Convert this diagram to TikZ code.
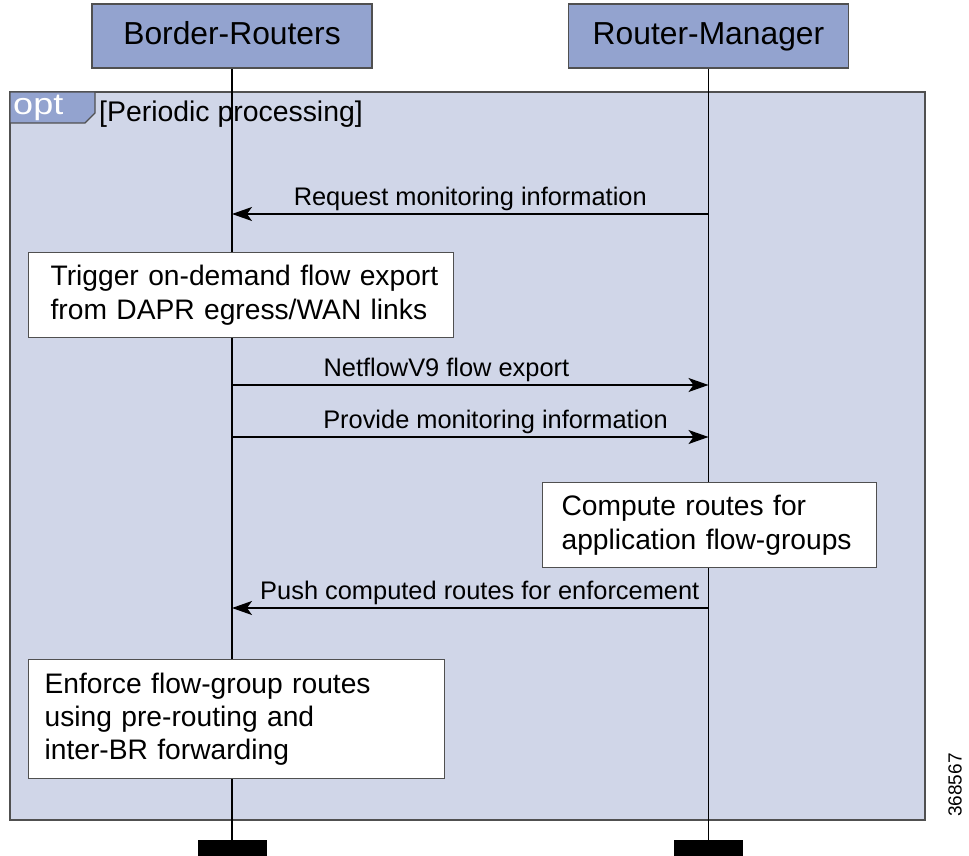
\documentclass[tikz,border=0pt]{standalone}
\usepackage{fontspec}
\setmainfont{Liberation Sans}
\usetikzlibrary{arrows.meta}
\definecolor{headblue}{HTML}{93A3CF}
\definecolor{optblue}{HTML}{D0D6E8}
\definecolor{edgegray}{HTML}{505050}
\tikzset{
  head/.style={draw=edgegray, fill=headblue, line width=1.2pt, minimum width=280pt, minimum height=64pt, inner sep=0pt, text height=23pt, text depth=6pt, font=\fontsize{31.8}{36}\selectfont},
  note/.style={draw=edgegray, fill=white, line width=1.2pt, anchor=north west, align=left, inner ysep=0pt, font=\fontsize{28.2}{34.5}\selectfont},
  msg/.style={-{Stealth[length=20pt,width=14pt,inset=5pt]}, line width=1.3pt},
  lbl/.style={above, inner sep=3pt, font=\fontsize{25.4}{30}\selectfont},
  bar/.style={fill=black, minimum width=69pt, minimum height=16pt, inner sep=0pt},
}
\begin{document}
\begin{tikzpicture}[x=1pt,y=-1pt]
\useasboundingbox (0,0) rectangle (969,856);
\draw[draw=edgegray, fill=optblue, line width=1.2pt] (10,92) rectangle (925,820);
\draw[draw=edgegray, fill=headblue, line width=1.2pt] (10,92) -- (95,92) -- (95,113) -- (85,123) -- (10,123) -- cycle;
\node[anchor=base west, text=white, inner sep=0pt, xscale=1.2, font=\fontsize{30}{36}\selectfont] (opt) at (13,115) {opt};
\node[anchor=base west, inner sep=0pt, font=\fontsize{28.4}{32}\selectfont] (guard) at (99,122) {[Periodic processing]};
\node[head] (br) at (232,36) {Border-Routers};
\node[head] (rm) at (708.5,36) {Router-Manager};
\node[bar] (brbar) at (232,848) {};
\node[bar] (rmbar) at (708.5,848) {};
\draw[line width=1.2pt] (br.south) -- (brbar.north);
\draw[line width=1.2pt] (rm.south) -- (rmbar.north);
\node[note, minimum width=425pt, minimum height=85pt, text width=401pt, inner xsep=12pt] (trigger) at (28,252)
  {\hspace*{10pt}Trigger on-demand flow export\\\hspace*{10pt}from DAPR egress/WAN links};
\node[note, minimum width=334pt, minimum height=85pt, text width=296pt, inner xsep=19pt] (compute) at (542,482)
  {Compute routes for\\application flow-groups};
\node[note, minimum width=416pt, minimum height=119pt, text width=384pt, inner xsep=16pt, font=\fontsize{28.2}{33}\selectfont] (enforce) at (28,659)
  {Enforce flow-group routes\\using pre-routing and\\inter-BR forwarding};
\coordinate (rm1) at (708.5,214);
\coordinate (br1) at (232,214);
\coordinate (br2) at (232,385);
\coordinate (rm2) at (708.5,385);
\coordinate (br3) at (232,437);
\coordinate (rm3) at (708.5,437);
\coordinate (rm4) at (708.5,608);
\coordinate (br4) at (232,608);
\draw[msg] (rm1) -- node[lbl, midway] (req) {Request monitoring information} (br1);
\draw[msg] (br2) -- node[lbl, pos=0.45] (nf) {NetflowV9 flow export} (rm2);
\draw[msg] (br3) -- node[lbl, pos=0.553] (prov) {Provide monitoring information} (rm3);
\draw[msg] (rm4) -- node[lbl, pos=0.48] (push) {Push computed routes for enforcement} (br4);
\node[rotate=90, inner sep=0pt, font=\fontsize{19}{20}\selectfont] (figno) at (955,785) {368567};
\end{tikzpicture}
\end{document}
